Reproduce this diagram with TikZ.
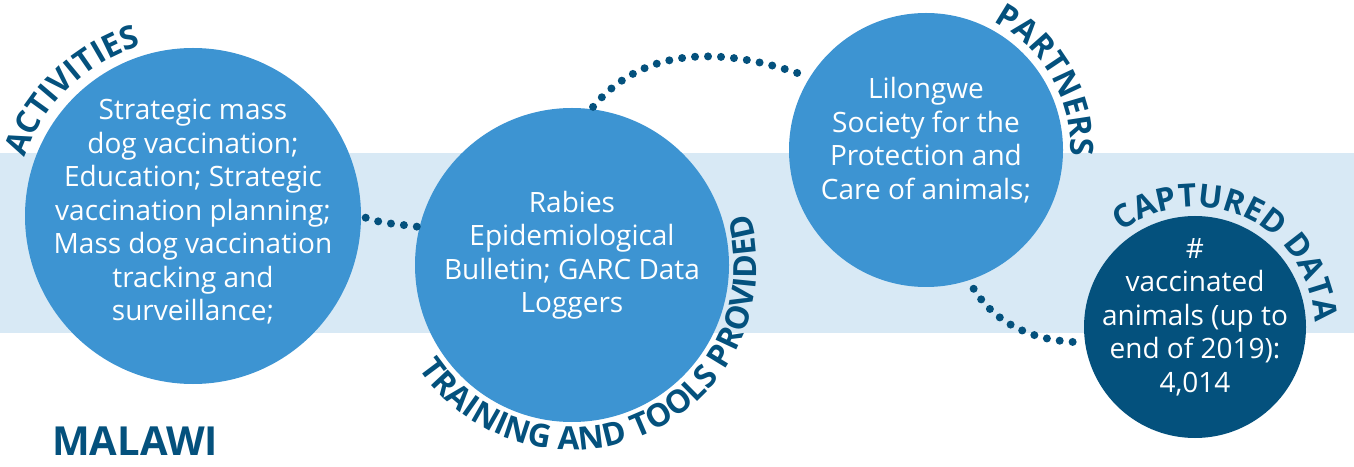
\documentclass[tikz,border=0pt]{standalone}
\usepackage{fontspec}
\setmainfont{Open Sans}
\usepackage{tikz}
\usetikzlibrary{positioning, calc, decorations.text}

\definecolor{midblue}{RGB}{61,148,210}
\definecolor{deepblue}{RGB}{4,81,125}
\definecolor{paleblue}{RGB}{216,233,245}

\tikzset{
  bubble/.style={circle, fill=midblue, inner sep=0pt, outer sep=0pt, minimum size=#1},
  bubbletext/.style={text=white, align=center, inner sep=0pt, font=\fontsize{28}{33.5}\selectfont},
  dotlink/.style={deepblue, line width=8pt, line cap=round, dash pattern=on 0pt off 13pt},
  arclabel/.style={decorate, decoration={text along path, text align=center, text color=deepblue,
      text={|\fontsize{32}{32}\selectfont\bfseries|#1}}}
}

\begin{document}
\begin{tikzpicture}[x=1pt, y=1pt]
    \useasboundingbox (0,0) rectangle (1354,466);

    % Background band
    \fill[paleblue] (0,133) rectangle (1354,313);

    % Drawing the circles
    \node[bubble=336] (act) at (193,250) {};
    \node[bubble=314] (train) at (572,201) {};
    \node[bubble=274] (part) at (926,316) {};
    \node[bubble=222, fill=deepblue] (data) at (1195,139) {};

    % Dotted links between circles
    \draw[dotlink, shorten <=5pt] (act.0) to[out=-20, in=172] (train.166);
    \draw[dotlink, shorten <=3pt, shorten >=2pt] (train.83) to[out=50, in=160] (part.148);
    \draw[dotlink, shorten <=10pt, shorten >=8pt] (part.-72) to[out=-58, in=178] (data.188);

    % Texts inside the circles
    \node[bubbletext] (actText) at ($(act)+(0,4)$) {Strategic mass\\dog vaccination;\\Education; Strategic\\vaccination planning;\\Mass dog vaccination\\tracking and\\surveillance;};
    \node[bubbletext] (trainText) at ($(train)+(0,10)$) {Rabies\\Epidemiological\\Bulletin; GARC Data\\Loggers};
    \node[bubbletext] (partText) at ($(part)+(0,10)$) {Lilongwe\\Society for the\\Protection and\\Care of animals;};
    \node[bubbletext] (dataText) at ($(data)+(0,10)$) {\#\\vaccinated\\animals (up to\\end of 2019):\\4,014};

    % Curved headings
    \path[arclabel=ACTIVITIES] ([shift={(act.center)}]174:178) arc[start angle=174, end angle=94, radius=178];
    \path[arclabel=TRAINING AND TOOLS PROVIDED] ([shift={(train.center)}]-166:185) arc[start angle=-166, end angle=36, radius=185];
    \path[arclabel=PARTNERS] ([shift={(part.center)}]80:145) arc[start angle=80, end angle=-20, radius=145];
    \path[arclabel=CAPTURED DATA] ([shift={(data.center)}]140:120) arc[start angle=140, end angle=-10, radius=120];

    % Country
    \node[anchor=base west, inner sep=0pt, text=deepblue, font=\fontsize{40}{40}\selectfont\bfseries] (country) at (52,11) {MALAWI};
\end{tikzpicture}
\end{document}
